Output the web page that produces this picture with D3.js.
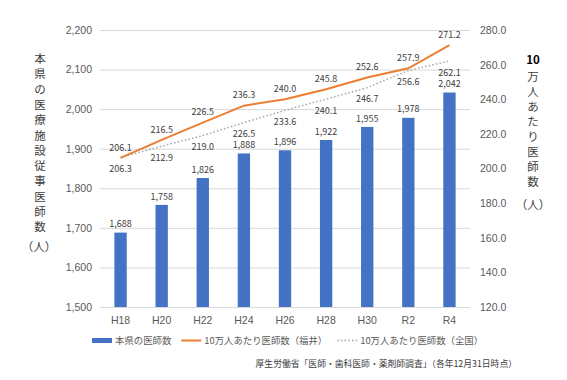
<!DOCTYPE html>
<html><head><meta charset="utf-8">
<script src="https://cdn.jsdelivr.net/npm/d3@7"></script>
<style>
html,body{margin:0;padding:0;background:#fff;}
svg{display:block;font-family:"Noto Sans CJK JP","Noto Sans",sans-serif;}
</style></head>
<body>
<svg id="chart" width="567" height="380"></svg>
<script>
const categories = ["H18","H20","H22","H24","H26","H28","H30","R2","R4"];
const doctors = [1688,1758,1826,1888,1896,1922,1955,1978,2042];
const fukuiPer100k = [206.1,216.5,226.5,236.3,240.0,245.8,252.6,257.9,271.2];
const nationalPer100k = [206.3,212.9,219.0,226.5,233.6,240.1,246.7,256.6,262.1];
const leftTicks = [1500,1600,1700,1800,1900,2000,2100,2200];
const rightTicks = [120,140,160,180,200,220,240,260,280];
const leftTitle = "本県の医療施設従事医師数";
const rightTitle = "万人あたり医師数";
const legendLabels = ["本県の医師数","10万人あたり医師数（福井）","10万人あたり医師数（全国）"];
const sourceText = "厚生労働省「医師・歯科医師・薬剤師調査」（各年12月31日時点）";

const svg = d3.select("#chart");
const plot = {left:100, right:470, top:30, bottom:307};
const x = d3.scaleBand().domain(categories).range([plot.left, plot.right]).paddingInner(0.7).paddingOuter(0.35);
const xc = d => x(d) + x.bandwidth()/2;
const yL = d3.scaleLinear().domain([1500,2200]).range([plot.bottom, plot.top]);
const yR = d3.scaleLinear().domain([120,280]).range([plot.bottom, plot.top]);

const tickColor = "#595959", labelColor = "#404040";

// gridlines
const grid = d3.axisLeft(yL).tickValues(leftTicks).tickSize(-(plot.right-plot.left)).tickFormat("");
svg.append("g").attr("transform",`translate(${plot.left},0)`).call(grid)
  .call(g=>g.select(".domain").remove())
  .call(g=>g.selectAll("line").attr("stroke","#d9d9d9").attr("stroke-width",1));

// left axis labels
const la = d3.axisLeft(yL).tickValues(leftTicks).tickSize(0).tickPadding(8).tickFormat(d3.format(","));
svg.append("g").attr("transform",`translate(${plot.left},0)`).call(la)
  .call(g=>g.select(".domain").remove())
  .call(g=>g.selectAll("text").attr("fill",tickColor).style("font-size","10.5px").style("font-family","inherit"));

// right axis labels
const ra = d3.axisRight(yR).tickValues(rightTicks).tickSize(0).tickPadding(10).tickFormat(d3.format(".1f"));
svg.append("g").attr("transform",`translate(${plot.right},0)`).call(ra)
  .call(g=>g.select(".domain").remove())
  .call(g=>g.selectAll("text").attr("fill",tickColor).style("font-size","10.5px").style("font-family","inherit"));

// x axis labels
const xa = d3.axisBottom(x).tickSize(0).tickPadding(10);
svg.append("g").attr("transform",`translate(0,${plot.bottom})`).call(xa)
  .call(g=>g.select(".domain").remove())
  .call(g=>g.selectAll("text").attr("fill",tickColor).style("font-size","10.5px").style("font-family","inherit"));

// bars
svg.append("g").selectAll("rect").data(doctors).join("rect")
  .attr("x",(d,i)=>x(categories[i])).attr("width",x.bandwidth())
  .attr("y",d=>yL(d)).attr("height",d=>yL(1500)-yL(d))
  .attr("fill","#4472c4");

// lines
const line = d3.line().x((d,i)=>xc(categories[i])).y(d=>yR(d));
svg.append("path").datum(nationalPer100k).attr("d",line).attr("fill","none")
  .attr("stroke","#a5a5a5").attr("stroke-width",1.5).attr("stroke-dasharray","1.5 2.2");
svg.append("path").datum(fukuiPer100k).attr("d",line).attr("fill","none")
  .attr("stroke","#ed7d31").attr("stroke-width",2);

// data labels
const lbl = svg.append("g").style("font-size","9px").attr("fill",labelColor).attr("text-anchor","middle");
lbl.selectAll(".bl").data(doctors).join("text").attr("class","bl")
  .attr("x",(d,i)=>xc(categories[i])).attr("y",d=>yL(d)-8.5).attr("dy","0.35em")
  .text(d3.format(","));
lbl.selectAll(".fl").data(fukuiPer100k).join("text").attr("class","fl")
  .attr("x",(d,i)=>xc(categories[i])).attr("y",d=>yR(d)-10.5).attr("dy","0.35em")
  .text(d3.format(".1f"));
lbl.selectAll(".nl").data(nationalPer100k).join("text").attr("class","nl")
  .attr("x",(d,i)=>xc(categories[i])).attr("y",d=>yR(d)+11.5).attr("dy","0.35em")
  .text(d3.format(".1f"));

// left title (vertical)
const lt = svg.append("g").attr("fill",labelColor).style("font-size","11.5px").attr("text-anchor","middle");
Array.from(leftTitle).forEach((c,i)=>{
  lt.append("text").attr("x",40).attr("y",59+i*15.3).attr("dy","0.35em").text(c);
});
lt.append("text").attr("x",39).attr("y",59+leftTitle.length*15.3+4).attr("dy","0.35em").text("（人）");

// right title
const rt = svg.append("g").attr("fill",labelColor).style("font-size","11.5px").attr("text-anchor","middle");
rt.append("text").attr("x",533).attr("y",60).attr("dy","0.35em").attr("fill","#000").style("font-weight","bold").text("10");
Array.from(rightTitle).forEach((c,i)=>{
  rt.append("text").attr("x",533).attr("y",76.5+i*15).attr("dy","0.35em").text(c);
});
rt.append("text").attr("x",533).attr("y",76.5+rightTitle.length*15+8).attr("dy","0.35em").text("（人）");

// legend
const lg = svg.append("g").style("font-size","9.4px").attr("fill",tickColor);
const ly = 340.5;
let lx = 92;
legendLabels.forEach((t,i)=>{
  if(i===0){
    lg.append("rect").attr("x",lx).attr("y",ly-2.5).attr("width",20).attr("height",5).attr("fill","#4472c4");
  } else if(i===1){
    lg.append("line").attr("x1",lx).attr("x2",lx+20).attr("y1",ly).attr("y2",ly).attr("stroke","#ed7d31").attr("stroke-width",2);
  } else {
    lg.append("line").attr("x1",lx).attr("x2",lx+20).attr("y1",ly).attr("y2",ly).attr("stroke","#a5a5a5").attr("stroke-width",1.5).attr("stroke-dasharray","1.5 2.2");
  }
  const tx = lg.append("text").attr("x",lx+23).attr("y",ly).attr("dy","0.35em").text(t);
  lx = lx + 23 + tx.node().getComputedTextLength() + 10;
});

// source
svg.append("text").attr("x",517).attr("y",364).attr("dy","0.35em").attr("text-anchor","end")
  .attr("fill","#404040").style("font-size","8.8px").text(sourceText);
</script>
</body></html>
